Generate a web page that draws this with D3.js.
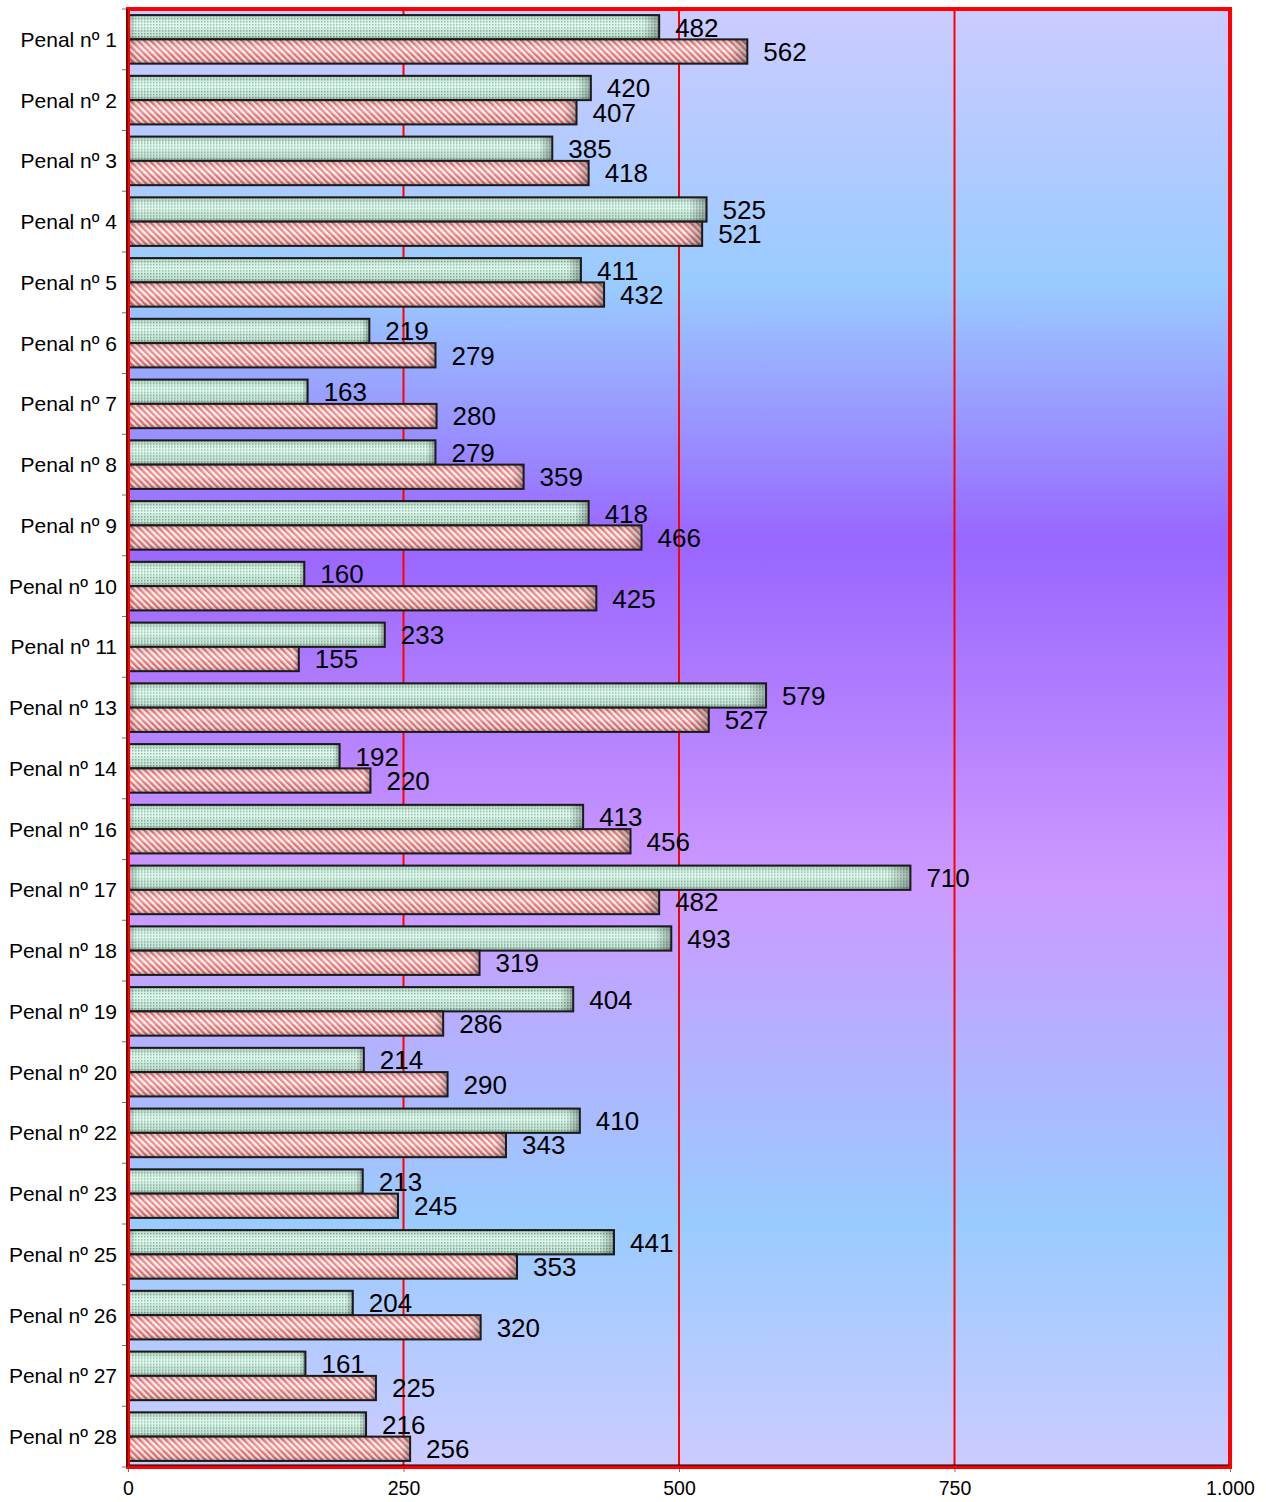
<!DOCTYPE html>
<html>
<head>
<meta charset="utf-8">
<script src="https://cdn.jsdelivr.net/npm/d3@7"></script>
<style>
  body { margin: 0; background: #fff; }
  svg { font-family: "Liberation Sans", Arial, sans-serif; }
</style>
</head>
<body>
<div id="chart"></div>
<script>
// data
const categories = ["Penal nº 1", "Penal nº 2", "Penal nº 3", "Penal nº 4", "Penal nº 5", "Penal nº 6",
  "Penal nº 7", "Penal nº 8", "Penal nº 9", "Penal nº 10", "Penal nº 11", "Penal nº 13",
  "Penal nº 14", "Penal nº 16", "Penal nº 17", "Penal nº 18", "Penal nº 19", "Penal nº 20",
  "Penal nº 22", "Penal nº 23", "Penal nº 25", "Penal nº 26", "Penal nº 27", "Penal nº 28"];
const seriesA = [482, 420, 385, 525, 411, 219, 163, 279, 418, 160, 233, 579, 192, 413, 710, 493, 404, 214, 410, 213, 441, 204, 161, 216];
const seriesB = [562, 407, 418, 521, 432, 279, 280, 359, 466, 425, 155, 527, 220, 456, 482, 319, 286, 290, 343, 245, 353, 320, 225, 256];
const xTicks = [0, 250, 500, 750, 1000];
const gridValues = [250, 500, 750];

const width = 1266, height = 1502;
const margin = {top: 9, right: 36, bottom: 35, left: 128};

const svg = d3.select("#chart").append("svg")
  .attr("width", width)
  .attr("height", height);

const x = d3.scaleLinear().domain([0, 1000]).range([margin.left, width - margin.right]);
const y = d3.scaleBand().domain(categories).range([margin.top, height - margin.bottom])
  .paddingInner(0.2).paddingOuter(0.1);
const sub = d3.scaleBand().domain(["a", "b"]).range([0, y.bandwidth()]);

const defs = svg.append("defs");

// background gradient
const bg = defs.append("linearGradient").attr("id", "bg")
  .attr("x1", 0).attr("y1", 0).attr("x2", 0).attr("y2", 1);
[[0, "#cccbff"], [0.19, "#99cbff"], [0.365, "#9966ff"], [0.6, "#cc99ff"], [0.83, "#99cbff"], [1, "#cccbff"]]
  .forEach(([o, c]) => bg.append("stop").attr("offset", o).attr("stop-color", c));

// dotted green pattern
const pg = defs.append("pattern").attr("id", "dots").attr("patternUnits", "userSpaceOnUse")
  .attr("width", 3).attr("height", 3);
pg.append("rect").attr("width", 3).attr("height", 3).attr("fill", "#dcf7e9");
pg.append("rect").attr("x", 0).attr("y", 0).attr("width", 1.5).attr("height", 1.5).attr("fill", "#74b59b");

// diagonal stripe red pattern
const pr = defs.append("pattern").attr("id", "stripes").attr("patternUnits", "userSpaceOnUse")
  .attr("width", 4.6).attr("height", 4.6).attr("patternTransform", "rotate(-45)");
pr.append("rect").attr("width", 4.6).attr("height", 4.6).attr("fill", "#fff2f2");
pr.append("rect").attr("width", 2.3).attr("height", 4.6).attr("fill", "#eb7474");

// shading so bars look rounded
const sh = defs.append("linearGradient").attr("id", "shade")
  .attr("x1", 0).attr("y1", 0).attr("x2", 0).attr("y2", 1);
[[0, "#000", 0.2], [0.3, "#fff", 0.15], [0.5, "#fff", 0.2], [0.8, "#000", 0.05], [1, "#000", 0.3]]
  .forEach(([o, c, a]) => sh.append("stop").attr("offset", o).attr("stop-color", c).attr("stop-opacity", a));
const shx = defs.append("linearGradient").attr("id", "shadex")
  .attr("x1", 0).attr("y1", 0).attr("x2", 1).attr("y2", 0);
[[0, "#000", 0.25], [0.015, "#000", 0], [0.97, "#000", 0], [1, "#000", 0.3]]
  .forEach(([o, c, a]) => shx.append("stop").attr("offset", o).attr("stop-color", c).attr("stop-opacity", a));

// plot background
svg.append("rect")
  .attr("x", x(0)).attr("y", margin.top)
  .attr("width", x(1000) - x(0)).attr("height", height - margin.bottom - margin.top)
  .attr("fill", "url(#bg)");

// gridlines
svg.append("g").selectAll("line").data(gridValues).join("line")
  .attr("x1", d => x(d)).attr("x2", d => x(d))
  .attr("y1", margin.top).attr("y2", height - margin.bottom)
  .attr("stroke", "#ff0000").attr("stroke-width", 2);

// bars
const rows = categories.map((c, i) => ({c, a: seriesA[i], b: seriesB[i]}));
const groups = svg.append("g").selectAll("g").data(rows).join("g")
  .attr("transform", d => `translate(0,${y(d.c)})`);

const bars = [["a", "url(#dots)"], ["b", "url(#stripes)"]];
bars.forEach(([key, fill]) => {
  groups.append("rect")
    .attr("x", x(0)).attr("y", sub(key))
    .attr("width", d => x(d[key]) - x(0)).attr("height", sub.bandwidth())
    .attr("fill", fill);
  groups.append("rect")
    .attr("x", x(0)).attr("y", sub(key))
    .attr("width", d => x(d[key]) - x(0)).attr("height", sub.bandwidth())
    .attr("fill", "url(#shade)");
  groups.append("rect")
    .attr("x", x(0)).attr("y", sub(key))
    .attr("width", d => x(d[key]) - x(0)).attr("height", sub.bandwidth())
    .attr("fill", "url(#shadex)")
    .attr("stroke", "#1a1a1a").attr("stroke-width", 2);
  groups.append("text")
    .attr("x", d => x(d[key]) + 16)
    .attr("y", sub(key) + sub.bandwidth() / 2)
    .attr("dy", "0.36em")
    .attr("font-size", 26)
    .attr("fill", "#000")
    .text(d => d[key]);
});

// category labels and y ticks
svg.append("g").selectAll("text").data(categories).join("text")
  .attr("x", margin.left - 11)
  .attr("y", d => y(d) + y.bandwidth() / 2)
  .attr("dy", "0.36em")
  .attr("text-anchor", "end")
  .attr("font-size", 21)
  .attr("fill", "#000")
  .text(d => d);

const boundaries = categories.map(c => y(c) - y.step() * y.paddingInner() / 2);
boundaries.push(height - margin.bottom);
svg.append("g").selectAll("line").data(boundaries).join("line")
  .attr("x1", margin.left - 6).attr("x2", margin.left)
  .attr("y1", d => d).attr("y2", d => d)
  .attr("stroke", "#777").attr("stroke-width", 1);

// x axis
const xAxis = d3.axisBottom(x).tickValues(xTicks).tickSize(5)
  .tickFormat(d => d3.format(",")(d).replace(",", "."));
svg.append("g")
  .attr("transform", `translate(0,${height - margin.bottom})`)
  .call(xAxis)
  .call(g => g.select(".domain").remove())
  .call(g => g.selectAll("line").attr("stroke", "#777"))
  .call(g => g.selectAll("text").attr("font-size", 19.5).attr("dy", "1em")
    .attr("fill", "#000").attr("font-family", "Liberation Sans, Arial, sans-serif"));

// plot frame
svg.append("rect")
  .attr("x", x(0)).attr("y", margin.top)
  .attr("width", x(1000) - x(0)).attr("height", height - margin.bottom - margin.top)
  .attr("fill", "none").attr("stroke", "#ff0000").attr("stroke-width", 4);
svg.append("line")
  .attr("x1", x(0) + 1).attr("x2", x(1000) - 1)
  .attr("y1", height - margin.bottom - 2).attr("y2", height - margin.bottom - 2)
  .attr("stroke", "#000").attr("stroke-width", 1);
svg.append("line")
  .attr("x1", x(0) - 1).attr("x2", x(0) - 1)
  .attr("y1", margin.top).attr("y2", height - margin.bottom)
  .attr("stroke", "#000").attr("stroke-width", 1);
</script>
</body>
</html>
